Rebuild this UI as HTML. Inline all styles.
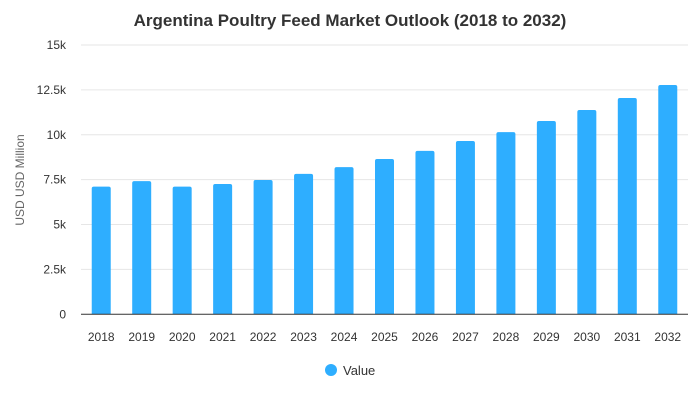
<!DOCTYPE html>
<html><head><meta charset="utf-8"><style>
body{margin:0;background:#fff;font-family:"Liberation Sans",Arial,sans-serif}
</style></head><body>
<svg id="chart" width="700" height="400" xmlns="http://www.w3.org/2000/svg">
<text x="350" y="26" text-anchor="middle" font-size="17" font-weight="bold" fill="#333">Argentina Poultry Feed Market Outlook (2018 to 2032)</text>
<text transform="translate(24,180) rotate(-90)" text-anchor="middle" font-size="12" fill="#666">USD USD Million</text>
<g id="grid"></g><g id="bars"></g><g id="xlabels"></g>
<line x1="81" x2="688" y1="314.3" y2="314.3" stroke="#333" stroke-width="1"/>
<circle cx="331" cy="370" r="6" fill="#2eaeff"/>
<text x="343" y="375" font-size="13" fill="#333">Value</text>
</svg>
<script>
const categories=["2018","2019","2020","2021","2022","2023","2024","2025","2026","2027","2028","2029","2030","2031","2032"];
const values=[7110,7420,7110,7260,7480,7820,8200,8650,9100,9650,10150,10770,11380,12050,12770];
const tickValues=[0,2500,5000,7500,10000,12500,15000];
const tickLabels=["0","2.5k","5k","7.5k","10k","12.5k","15k"];
const NS="http://www.w3.org/2000/svg";
const x0=81,x1=688,yBase=314.3,yTop=45,maxV=15000;
const band=(x1-x0)/categories.length;
const y=v=>yBase-(v/maxV)*(yBase-yTop);
const xc=i=>x0+band*(i+0.5);
const grid=document.getElementById('grid'),bars=document.getElementById('bars'),xl=document.getElementById('xlabels');
tickValues.forEach((t,i)=>{
 if(t>0){const l=document.createElementNS(NS,'line');
 l.setAttribute('x1',x0);l.setAttribute('x2',x1);l.setAttribute('y1',y(t));l.setAttribute('y2',y(t));
 l.setAttribute('stroke','#e6e6e6');
 
 
 grid.appendChild(l);}
 const tx=document.createElementNS(NS,'text');
 tx.setAttribute('x',66);tx.setAttribute('y',y(t)+4);tx.setAttribute('text-anchor','end');
 tx.setAttribute('font-size','12');tx.setAttribute('fill','#333');tx.textContent=tickLabels[i];
 
 
 grid.appendChild(tx);
});
categories.forEach((c,i)=>{
 const w=19,top=y(values[i]);
 const p=document.createElementNS(NS,'path');
 const L=xc(i)-w/2,R=xc(i)+w/2,r=2;
 p.setAttribute('d',`M${L},${yBase}V${top+r}Q${L},${top} ${L+r},${top}H${R-r}Q${R},${top} ${R},${top+r}V${yBase}Z`);
 p.setAttribute('fill','#2eaeff');
 
 
 bars.appendChild(p);
 const t=document.createElementNS(NS,'text');
 t.setAttribute('x',xc(i));t.setAttribute('y',341);t.setAttribute('text-anchor','middle');
 t.setAttribute('font-size','12');t.setAttribute('fill','#333');t.textContent=c;
 
 
 xl.appendChild(t);
});
</script>
</body></html>
